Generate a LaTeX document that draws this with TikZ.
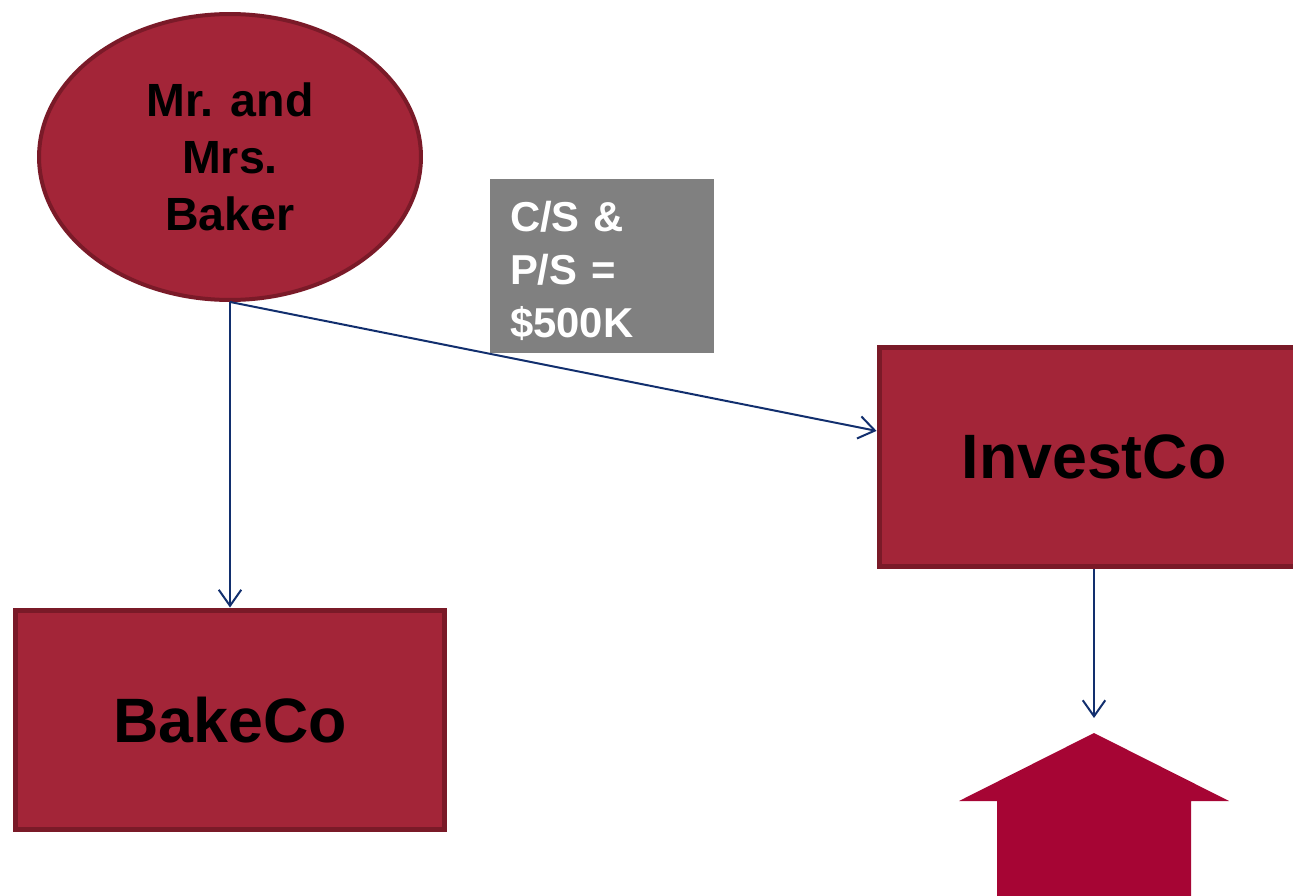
\documentclass[tikz,border=0pt]{standalone}
\usepackage{fontspec}
\setmainfont{Liberation Sans}
\usetikzlibrary{arrows.meta,shapes.geometric,calc}

\definecolor{bakerred}{RGB}{163,37,56}
\definecolor{bakerrim}{RGB}{122,26,40}
\definecolor{roofred}{RGB}{166,5,52}
\definecolor{linknavy}{RGB}{18,47,110}
\definecolor{notegrey}{RGB}{128,128,128}

\begin{document}
\begin{tikzpicture}[x=0.02cm,y=-0.02cm,>={Straight Barb[length=0.32cm,width=0.45cm]}]
       \tikzstyle{party}=[ellipse, fill=bakerred, draw=bakerrim, line width=0.08cm, minimum width=7.64cm, minimum height=5.72cm, inner sep=0pt, align=center, font=\fontsize{26.5}{32.3}\selectfont\bfseries]
       \tikzstyle{company}=[rectangle, fill=bakerred, draw=bakerrim, line width=0.1cm, minimum width=8.6cm, minimum height=4.4cm, font=\fontsize{35.7}{40}\selectfont\bfseries]
       \tikzstyle{note}=[rectangle, fill=notegrey, text=white, inner xsep=0.4cm, text width=3.68cm, minimum height=3.48cm, align=left, font=\fontsize{23.8}{30}\selectfont\bfseries]
       \tikzstyle{link}=[->, draw=linknavy, line width=0.04cm]

       \useasboundingbox (0,0) rectangle (1293,895);
       \clip (0,0) rectangle (1293,895);

       \node[party]   (baker)    at (230,157)  {Mr. and\\Mrs.\\Baker};
       \node[company] (bakeco)   at (230,720)  {BakeCo};
       \node[company] (investco) at (1094,457) {InvestCo};
       \node[note]    (shares)   at (602,266)  {\rule{0pt}{0.81cm}C/S \&\\P/S =\\\$500K};
       \coordinate    (roof)     at (1094,718);

       % the building below InvestCo
       \fill[roofred] (1094,733) -- (1229,801) -- (1191,801) -- (1191,900)
             -- (997,900) -- (997,801) -- (959,801) -- cycle;

       \draw[link] (baker.south) -- (bakeco.north);
       \draw[link] (baker.south) -- ($(investco.north west)!0.384!(investco.south west)$);
       \draw[link] (investco.south) -- (roof);
     \end{tikzpicture}
\end{document}
